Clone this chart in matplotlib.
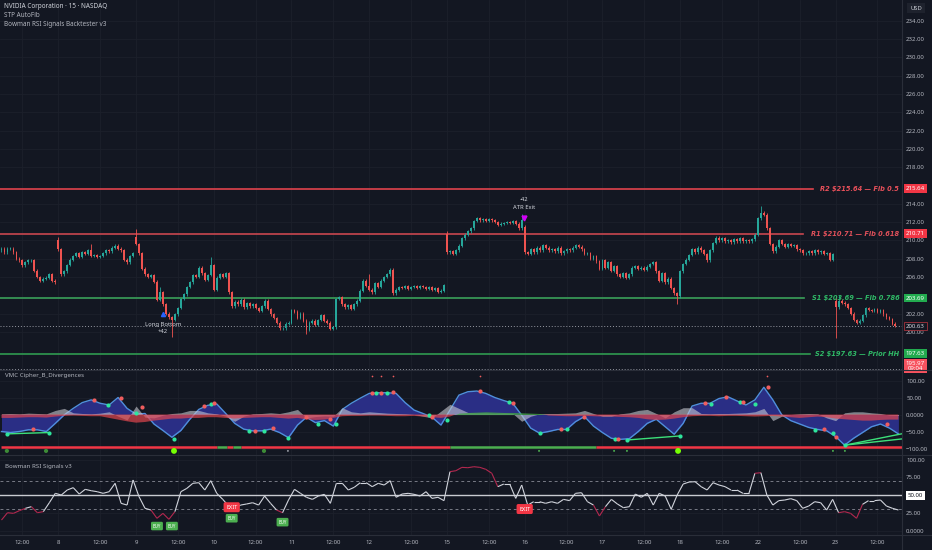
import numpy as np
import matplotlib
matplotlib.use("Agg")
import matplotlib.pyplot as plt
from matplotlib.collections import LineCollection
from matplotlib.transforms import blended_transform_factory as blend

plt.rcParams['font.family'] = ['Noto Sans', 'DejaVu Sans']

## ---- data (15 min bars, NVDA) ----
day07 = [209.1, 208.7, 209.1, 209.1, 208.7, 208.0, 207.8, 207.25, 207.6, 207.8, 207.8, 206.7, 206.0,
         205.6, 205.8, 205.9, 206.3, 205.6, 205.4]
day08 = [209.0, 206.3, 206.6, 207.3, 207.9, 208.3, 208.6, 208.2, 208.7, 208.5, 208.9, 208.3, 208.4,
         208.2, 208.3, 208.6, 208.9, 208.8, 209.2, 209.4, 209.1, 208.9, 207.9, 207.6, 208.3, 208.6]
day09 = [209.6, 208.6, 206.9, 206.3, 206.0, 206.2, 205.5, 203.5, 204.3, 203.0, 202.0, 201.6, 201.3,
         201.9, 202.6, 203.6, 204.1, 204.9, 205.4, 206.2, 206.0, 207.0, 206.4, 205.7, 206.2, 207.3]
day10 = [204.6, 205.9, 206.3, 206.0, 206.4, 204.3, 202.8, 203.3, 203.0, 203.5, 202.7, 203.1, 202.8,
         203.0, 202.6, 202.3, 202.8, 203.4, 202.5, 201.9, 201.5, 201.0, 200.4, 200.4, 200.9, 201.0]
day11 = [202.4, 202.2, 201.5, 202.0, 201.2, 200.2, 201.0, 201.2, 200.8, 201.3, 201.8, 201.2, 201.0,
         200.3, 200.5, 203.6, 203.8, 203.0, 202.7, 202.9, 202.5, 203.0, 203.4, 204.5, 205.6, 205.0]
day12 = [204.6, 204.3, 205.3, 204.9, 205.6, 206.0, 206.3, 206.8, 204.2, 204.6, 204.9, 204.8, 205.0,
         204.7, 204.9, 205.0, 204.8, 205.0, 204.9, 204.7, 204.9, 204.6, 204.8, 204.4, 204.5, 205.1]
day15 = [208.7, 208.8, 208.5, 208.9, 209.4, 210.2, 210.6, 211.0, 211.3, 212.1, 212.4, 212.2, 212.3,
         212.1, 212.3, 212.2, 212.0, 211.7, 211.8, 211.9, 212.0, 211.9, 212.1, 211.8, 211.3, 212.2]
day16 = [208.7, 208.5, 209.0, 208.7, 209.2, 208.9, 209.5, 209.2, 208.9, 209.0, 208.8, 209.2, 208.6,
         208.8, 209.0, 208.9, 209.2, 209.5, 209.3, 209.0, 208.5, 208.6, 208.0, 208.3, 207.7, 206.9]
day17 = [207.8, 207.0, 207.6, 206.7, 207.2, 206.3, 206.0, 206.4, 205.9, 206.3, 207.0, 207.2, 206.9,
         207.0, 206.8, 207.1, 207.4, 207.6, 206.6, 205.6, 206.4, 205.4, 205.8, 204.8, 204.2, 203.9]
day18 = [206.6, 207.4, 207.9, 208.4, 209.0, 208.7, 209.2, 208.9, 208.5, 207.8, 208.9, 209.7, 210.3,
         210.0, 210.2, 209.9, 210.0, 209.8, 210.1, 209.9, 210.2, 209.9, 210.0, 209.9, 210.1, 210.6]
day22 = [212.4, 213.0, 212.8, 211.3, 209.6, 208.8, 209.3, 210.0, 209.6, 209.3, 209.6, 209.4, 209.5,
         209.0, 208.9, 208.6, 208.6, 208.8, 208.6, 208.9, 208.7, 208.8, 208.5, 208.6, 207.9, 208.5]
day23 = [202.7, 203.4, 203.2, 203.0, 202.6, 202.0, 201.3, 201.0, 201.2, 201.8, 202.6, 202.4, 202.3,
         202.5, 202.2, 202.4, 201.9, 201.6, 201.4, 200.9, 200.63]

gap_opens = {0: 208.9, 19: 210.0, 45: 210.4, 149: 210.7, 175: 211.5, 279: 203.4}
spike_highs = {19: 210.35, 30: 209.6, 45: 211.2, 53: 204.9, 70: 208.2, 123: 206.3, 130: 207.0,
               149: 211.0, 174: 212.9, 254: 213.8, 279: 203.8, 280: 204.0}
spike_lows = {57: 199.4, 102: 199.8, 226: 203.0, 279: 199.3}

## S/R levels from STP AutoFib
level_names = ["R2 $215.64 — Fib 0.5", "R1 $210.71 — Fib 0.618",
               "S1 $203.69 — Fib 0.786", "S2 $197.63 — Prior HH"]
level_prices = [215.64, 210.71, 203.69, 197.63]
level_ends = [271.5, 268.0, 268.5, 270.5]
last_price = 200.63
other_price = 195.97
price_ticks = [200, 202, 206, 208, 210, 212, 214, 218, 220, 222, 224, 226, 228, 230, 232, 234]

## time axis
tick_bars = [7, 19, 33, 45, 59, 71, 85, 97, 111, 123, 137, 149, 163, 175, 189, 201, 215, 227,
             241, 253, 267, 279, 293]
tick_labels = ["12:00", "8", "12:00", "9", "12:00", "10", "12:00", "11", "12:00", "12", "12:00",
               "15", "12:00", "16", "12:00", "17", "12:00", "18", "12:00", "22", "12:00", "23", "12:00"]

## VMC Cipher B (one value every 3 bars)
wave = [-50, -53, -50, -45, -45, -50, -26, -1, 18, 35, 43, 33, 28, 50, 18, 1, 3, -28, -47, -67,
        -47, -14, 15, 27, 31, 3, -26, -43, -48, -48, -43, -53, -68, -31, -8, -24, -18, -34, 15, 33,
        48, 62, 64, 64, 62, 35, 13, 3, -8, -31, 13, 57, 67, 69, 62, 50, 41, 33, -2, -40,
        -55, -50, -44, -44, -21, -6, -34, -53, -70, -73, -71, -50, -26, -14, -36, -58, -26, 25, 33, 33,
        47, 52, 40, 28, 43, 80, 43, -1, -18, -28, -38, -44, -48, -65, -90, -70, -53, -36, -28, -40, -57]
money_flow = [-10, -10, -9, -8, -8, -9, -6, -4, -3, -4, -5, -5, -10, -15, -20, -24, -22, -18, -15,
              -12, -12, -10, -10, -8, -8, -10, -12, -10, -9, -8, -8, -10, -12, -10, -14, -16, -15, -10,
              -5, -4, -4, -3, -3, -4, -5, -5, -4, -6, -8, -10, -6, 4, 6, 7, 8, 7, 6, 6, 5, 4, 3,
              -3, -4, -5, -5, -4, -5, -6, -6, -7, -8, -10, -14, -16, -15, -12, -8, -5,
              -4, -4, -5, -4, -4, -5, -6, -5, -4, -6, -8, -10, -8, -6, -8,
              -12, -14, -16, -18, -18, -16, -15, -15]
rsi_mfi = [2, 3, 2, 4, 3, 2, 12, 18, 5, 3, 2, 4, 8, -5, -16, 25, -8, -10, -2, 3, 5, 12, 12, 5, 2,
           -5, -20, -5, 2, 3, 5, 3, 8, 15, -10, -6, -4, -5, 20, 8, 5, 8, 6, 4, 3, 2, 0, -5, -10, 10,
           30, 18, 6, 5, 5, 4, 5, 3, -20, -5, 2, 3, 3, 4, 5, 12, 3, -5, -5, 2, 5, 12, 15, 3, -10,
           8, 20, 20, 3, 2, 3, 3, 4, 5, 8, 18, -18, -5, 0, 2, 3, 2, -10, -18, 5, 8, 8, 5, 3, -2, -3]
green_dot_bars = [1.7, 16, 35.6, 45, 57.8, 70, 82.9, 87.8, 95.9, 106, 111.9, 125.1, 129, 143, 149.1,
                  169.8, 180.1, 189, 205.1, 209.1, 227, 237.3, 247, 252.1, 272.2, 278, 282.2]
green_dot_vals = [-57, -53, 28, 3, -72, 30, -48, -48, -68, -28, -29, 64, 64, 0, -16,
                  36, -55, -44, -72, -75, -63, 31, 38, 30, -45, -55, -90]
red_dot_bars = [10.6, 30.9, 39.9, 46.9, 67.7, 71, 84.9, 90.9, 101.8, 109.9, 123.8, 126.9, 131, 144.1,
                160, 171.2, 187.1, 194.9, 206.2, 235.2, 242.3, 248.1, 256.3, 275.2, 279.1, 296.1]
red_dot_vals = [-43, 43, 50, 21, 26, 33, -48, -41, -8, -14, 64, 64, 67, -8,
                69, 33, -44, -6, -72, 33, 52, 37, 82, -43, -67, -28]
top_dot_bars = [124, 127, 131, 160, 256]
div_start = [(1.7, -57), (209.1, -75), (282.2, -90), (282.2, -90)]
div_end = [(16, -53), (227, -63), (301, -57), (301, -72)]
bias_switch = [0, 72, 75.5, 77.5, 80, 150, 199, 301.5]
bias_colors = ["#f23645", "#4caf50", "#f23645", "#4caf50", "#f23645", "#4caf50", "#f23645"]
mf_dot_bars = [1.8, 14.9, 57.7, 87.8, 95.8, 179.8, 204.9, 209.2, 226.3, 278.1, 282.1]
mf_dot_sizes = [9, 9, 18, 9, 2, 2, 2, 2, 18, 2, 2]
mf_dot_cols = ["#3d8b37", "#3d8b37", "#76ff03", "#3d8b37", "#9598a1", "#4caf50", "#4caf50",
               "#4caf50", "#76ff03", "#4caf50", "#4caf50"]

## Bowman RSI (one value every 2 bars)
rsi = [15, 25.3, 24.4, 28.2, 31.5, 33.8, 25.3, 26.8, 39.4, 52.6,
       50.2, 57.3, 60.6, 51.6, 58.2, 56.3, 54.9, 52.6, 54.9, 66.7,
       38.5, 36.1, 71.4, 47.9, 31.5, 29.1, 17.4, 24.4, 16, 26.8,
       54.9, 59.6, 66.7, 67.6, 57.3, 70.4, 52.6, 44.1, 34.7, 31.5,
       36.1, 37.6, 39.4, 36.1, 48.8, 38.5, 29.1, 25.3, 43.2, 58.2,
       52.6, 47, 44.1, 48.8, 51.2, 38.5, 66.7, 66.7, 57.3, 61.1,
       67.6, 67.6, 62, 66.7, 64.3, 70.4, 47, 51.6, 52.6, 51.2,
       48.8, 54.9, 45.5, 47, 42.3, 83.1, 84.5, 89.2, 88.7, 90.1,
       89.2, 86.4, 80.8, 62, 65.7, 65.7, 45.5, 64.3, 36.1, 40.8,
       40.8, 38.5, 40.8, 38.5, 44.1, 42.3, 52.6, 53.5, 40.8, 36.1,
       20.7, 33.8, 44.1, 37.6, 32.4, 33.8, 51.6, 47, 52.6, 36.1,
       52.6, 48.8, 30.1, 50.2, 65.7, 68.5, 69, 62, 57.3, 67.6,
       64.3, 62, 57.3, 57.3, 52.6, 52.6, 80.8, 81.7, 50.2, 36.1,
       42.3, 43.2, 45.1, 42.3, 31.5, 34.7, 40.8, 39.4, 29.1, 44.1,
       25.3, 26.8, 24.4, 17.4, 37.1, 42.3, 42.3, 43.2, 34.7, 31.5,
       29.1]
buy_bars = [52, 57, 77, 94]
buy_levels = [6.5, 6.5, 17.5, 12]
exit_bars = [77, 175]
exit_levels = [33, 30.5]

## ---- style ----
BG = "#131722"
TXT = "#b2b5be"
GRID = "#1c202b"
UP, DN = "#26a69a", "#ef5350"
RED, GREEN = "#f23645", "#22ab4f"
W, H = 932.0, 550.0

fig = plt.figure(figsize=(W / 100, H / 100), dpi=100, facecolor=BG)


def pane(top, bottom):
    ax = fig.add_axes([0, 1 - bottom / H, 902 / W, (bottom - top) / H])
    ax.set_facecolor(BG)
    for s in ax.spines.values():
        s.set_visible(False)
    ax.set_xlim(-0.5, 301.2)
    ax.set_xticks(tick_bars)
    ax.grid(True, color=GRID, lw=0.6)
    ax.set_axisbelow(True)
    ax.yaxis.tick_right()
    ax.tick_params(axis='y', length=0, pad=3, labelsize=4.4, labelcolor=TXT)
    ax.tick_params(axis='x', length=0, pad=3.5, labelsize=4.4, labelcolor=TXT)
    return ax


ax1 = pane(0, 370)
ax2 = pane(370, 455)
ax3 = pane(455, 535)
ax1.set_xticklabels([])
ax2.set_xticklabels([])
ax3.set_xticklabels(tick_labels)

## ---- candles ----
closes = np.array(day07 + day08 + day09 + day10 + day11 + day12 + day15 + day16 + day17 + day18
                  + day22 + day23)
opens = np.r_[closes[0], closes[:-1]]
for i, v in gap_opens.items():
    opens[i] = v
wick = 0.15
highs = np.maximum(opens, closes) + wick
lows = np.minimum(opens, closes) - wick
for i, v in spike_highs.items():
    highs[i] = v
for i, v in spike_lows.items():
    lows[i] = v
bars = np.arange(len(closes))
cols = np.where(closes >= opens, UP, DN)
ax1.vlines(bars, lows, highs, colors=cols, lw=0.6, zorder=3)
ax1.bar(bars, np.maximum(np.abs(closes - opens), 0.05), bottom=np.minimum(opens, closes),
        width=0.62, color=cols, lw=0, zorder=3)

ax1.set_ylim(195.83, 236.26)
ax1.set_yticks(price_ticks)
ax1.set_yticklabels(["%.2f" % t for t in price_ticks])

## levels
lcol = ["#e0434d", "#c9464f", "#3aa05a", "#2f9a50"]
tcol = ["#e8505a", "#e0505a", "#2fb866", "#2fb866"]
box = ["#f23645", "#f23645", GREEN, GREEN]
tr = blend(ax1.transAxes, ax1.transData)
for name, p, xe, lc, tc, bc in zip(level_names, level_prices, level_ends, lcol, tcol, box):
    ax1.plot([-0.5, xe], [p, p], color=lc, lw=1.2, zorder=2)
    ax1.text(0.997, p, name, transform=tr, ha='right', va='center', color=tc, fontsize=4.75,
             family='DejaVu Sans', fontweight='bold', fontstyle='oblique', zorder=4)
    ax1.text(1.015, p, "%.2f" % p, transform=tr, ha='center', va='center', color='white',
             fontsize=4.4, clip_on=False, zorder=6,
             bbox=dict(boxstyle='square,pad=0.3', fc=bc, ec='none'))
ax1.axhline(last_price, color="#9598a1", lw=0.7, ls=(0, (1, 2)), zorder=2)
ax1.axhline(other_price, color="#9598a1", lw=0.7, ls=(0, (1, 2)), zorder=2)
ax1.text(1.015, last_price, "%.2f" % last_price, transform=tr, ha='center', va='center',
         color='#d1d4dc', fontsize=4.4, clip_on=False, zorder=6,
         bbox=dict(boxstyle='square,pad=0.3', fc=BG, ec='#a3333d', lw=0.6))
ax1.annotate("%.2f\n09:04" % other_price, xy=(1.015, level_prices[3]), xycoords=tr,
             xytext=(0, -9), textcoords='offset points', ha='center', va='center',
             color='white', fontsize=4.4, linespacing=1.15, annotation_clip=False, zorder=6,
             bbox=dict(boxstyle='square,pad=0.3', fc="#f7525f", ec='none'))

## trade markers
ax1.plot([54], [202.0], marker='^', ms=3, color='#2962ff', zorder=5)
ax1.text(54, 200.75, "Long Bottom", ha='center', va='center', color='#d1d4dc', fontsize=4.2, zorder=5)
ax1.text(54, 200.05, "+42", ha='center', va='center', color='#d1d4dc', fontsize=4.2, zorder=5)
ax1.plot([174.7], [212.4], marker='v', ms=3.5, color='#d500f9', zorder=5)
ax1.text(174.7, 214.5, "-42", ha='center', va='center', color='#d1d4dc', fontsize=4.2, zorder=5)
ax1.text(174.7, 213.6, "ATR Exit", ha='center', va='center', color='#d1d4dc', fontsize=4.2, zorder=5)

## ---- VMC pane ----
vb = np.arange(0, 301, 3)
wave = np.array(wave, float)
money_flow = np.array(money_flow, float)
rsi_mfi = np.array(rsi_mfi, float)
ax2.fill_between(vb, 0, wave, color="#2a2e85", lw=0, zorder=2)
ax2.plot(vb, wave, color="#4f8fdc", lw=1.0, zorder=3)
ax2.fill_between(vb, 0, rsi_mfi, color="#c8cad2", alpha=0.6, lw=0, zorder=3)
ax2.fill_between(vb, 0, money_flow, where=money_flow < 0, interpolate=True, color="#e0454d",
                 alpha=0.7, lw=0, zorder=4)
ax2.fill_between(vb, 0, money_flow, where=money_flow >= 0, interpolate=True, color="#43a047",
                 alpha=0.8, lw=0, zorder=4)
for a, b in zip(div_start, div_end):
    ax2.plot([a[0], b[0]], [a[1], b[1]], color="#3ce07a", lw=1.0, zorder=5)
ax2.scatter(green_dot_bars, green_dot_vals, s=9, color="#2ee59d", lw=0, zorder=6)
ax2.scatter(red_dot_bars, red_dot_vals, s=9, color="#f05d5e", lw=0, zorder=6)
ax2.scatter(top_dot_bars, [112] * len(top_dot_bars), s=1.5, color="#f05d5e", lw=0, zorder=6)
for x0, x1, c in zip(bias_switch[:-1], bias_switch[1:], bias_colors):
    ax2.plot([x0, x1], [-96, -96], color=c, lw=1.8, solid_capstyle='butt', zorder=5)
ax2.scatter(mf_dot_bars, [-107] * len(mf_dot_bars), s=mf_dot_sizes, c=mf_dot_cols, lw=0, zorder=6)
ax2.set_ylim(-119.1, 130.9)
vmc_ticks = [100, 50, 0, -50, -100]
ax2.set_yticks(vmc_ticks)
ax2.set_yticklabels(["100.00", "50.00", "0.0000", "−50.00", "−100.00"])
ax2.text(0.005, 0.93, "VMC Cipher_B_Divergences", transform=ax2.transAxes, color=TXT,
         fontsize=4.4, va='center')

## ---- RSI pane ----
rb = np.arange(0, 301, 2)
rsi = np.array(rsi, float)
pts = np.column_stack([rb, rsi])
segs = np.stack([pts[:-1], pts[1:]], axis=1)
mid = (rsi[:-1] + rsi[1:]) / 2
seg_cols = np.where((mid > 70) | (mid < 30), "#b3284f", "#d1d4dc")
ax3.add_collection(LineCollection(segs, colors=seg_cols, lw=0.8, zorder=4))
ax3.axhline(70, color="#787b86", lw=0.7, ls=(0, (3, 3)), zorder=2)
ax3.axhline(30, color="#787b86", lw=0.7, ls=(0, (3, 3)), zorder=2)
ax3.axhline(50, color="#c9cbd1", lw=1.0, zorder=3)
ax3.set_ylim(-6.1, 106.6)
ax3.set_yticks([100, 75, 25, 0])
ax3.set_yticklabels(["100.00", "75.00", "25.00", "0.0000"])
tr3 = blend(ax3.transAxes, ax3.transData)
ax3.text(1.015, 50, "50.00", transform=tr3, ha='center', va='center', color='#131722',
         fontsize=4.4, clip_on=False, zorder=6,
         bbox=dict(boxstyle='square,pad=0.3', fc='white', ec='none'))
for b, lv in zip(buy_bars, buy_levels):
    ax3.text(b, lv, "BUY", ha='center', va='center', color='white', fontsize=3.2, fontweight='bold',
             zorder=7, bbox=dict(boxstyle='round,pad=0.4,rounding_size=0.3', fc='#4caf50', ec='none'))
for b, lv in zip(exit_bars, exit_levels):
    ax3.text(b, lv, "EXIT", ha='center', va='center', color='white', fontsize=4.0, zorder=7,
             bbox=dict(boxstyle='round,pad=0.45,rounding_size=0.3', fc='#f23645', ec='none'))
ax3.text(0.005, 0.86, "Bowman RSI Signals v3", transform=ax3.transAxes, color=TXT,
         fontsize=4.4, va='center')

## ---- frame, headers ----
for ypx in (370, 455, 535):
    fig.add_artist(plt.Line2D([0, 1], [1 - ypx / H] * 2, color="#2a2e39", lw=0.8))
fig.add_artist(plt.Line2D([902 / W] * 2, [0, 1], color="#2a2e39", lw=0.8))

fig.text(4 / W, 1 - 6 / H, "NVIDIA Corporation · 15 · NASDAQ", color="#d1d4dc", fontsize=4.6,
         fontweight='bold', va='center')
fig.text(4 / W, 1 - 15.5 / H, "STP AutoFib", color=TXT, fontsize=4.6, va='center')
fig.text(4 / W, 1 - 25 / H, "Bowman RSI Signals Backtester v3", color=TXT, fontsize=4.6, va='center')
fig.text(916 / W, 1 - 8 / H, "USD", color="#d1d4dc", fontsize=4.2, ha='center', va='center',
         bbox=dict(boxstyle='square,pad=0.5', fc="#1e222d", ec='none'))

fig.savefig("out.png", dpi=100, facecolor=BG)
